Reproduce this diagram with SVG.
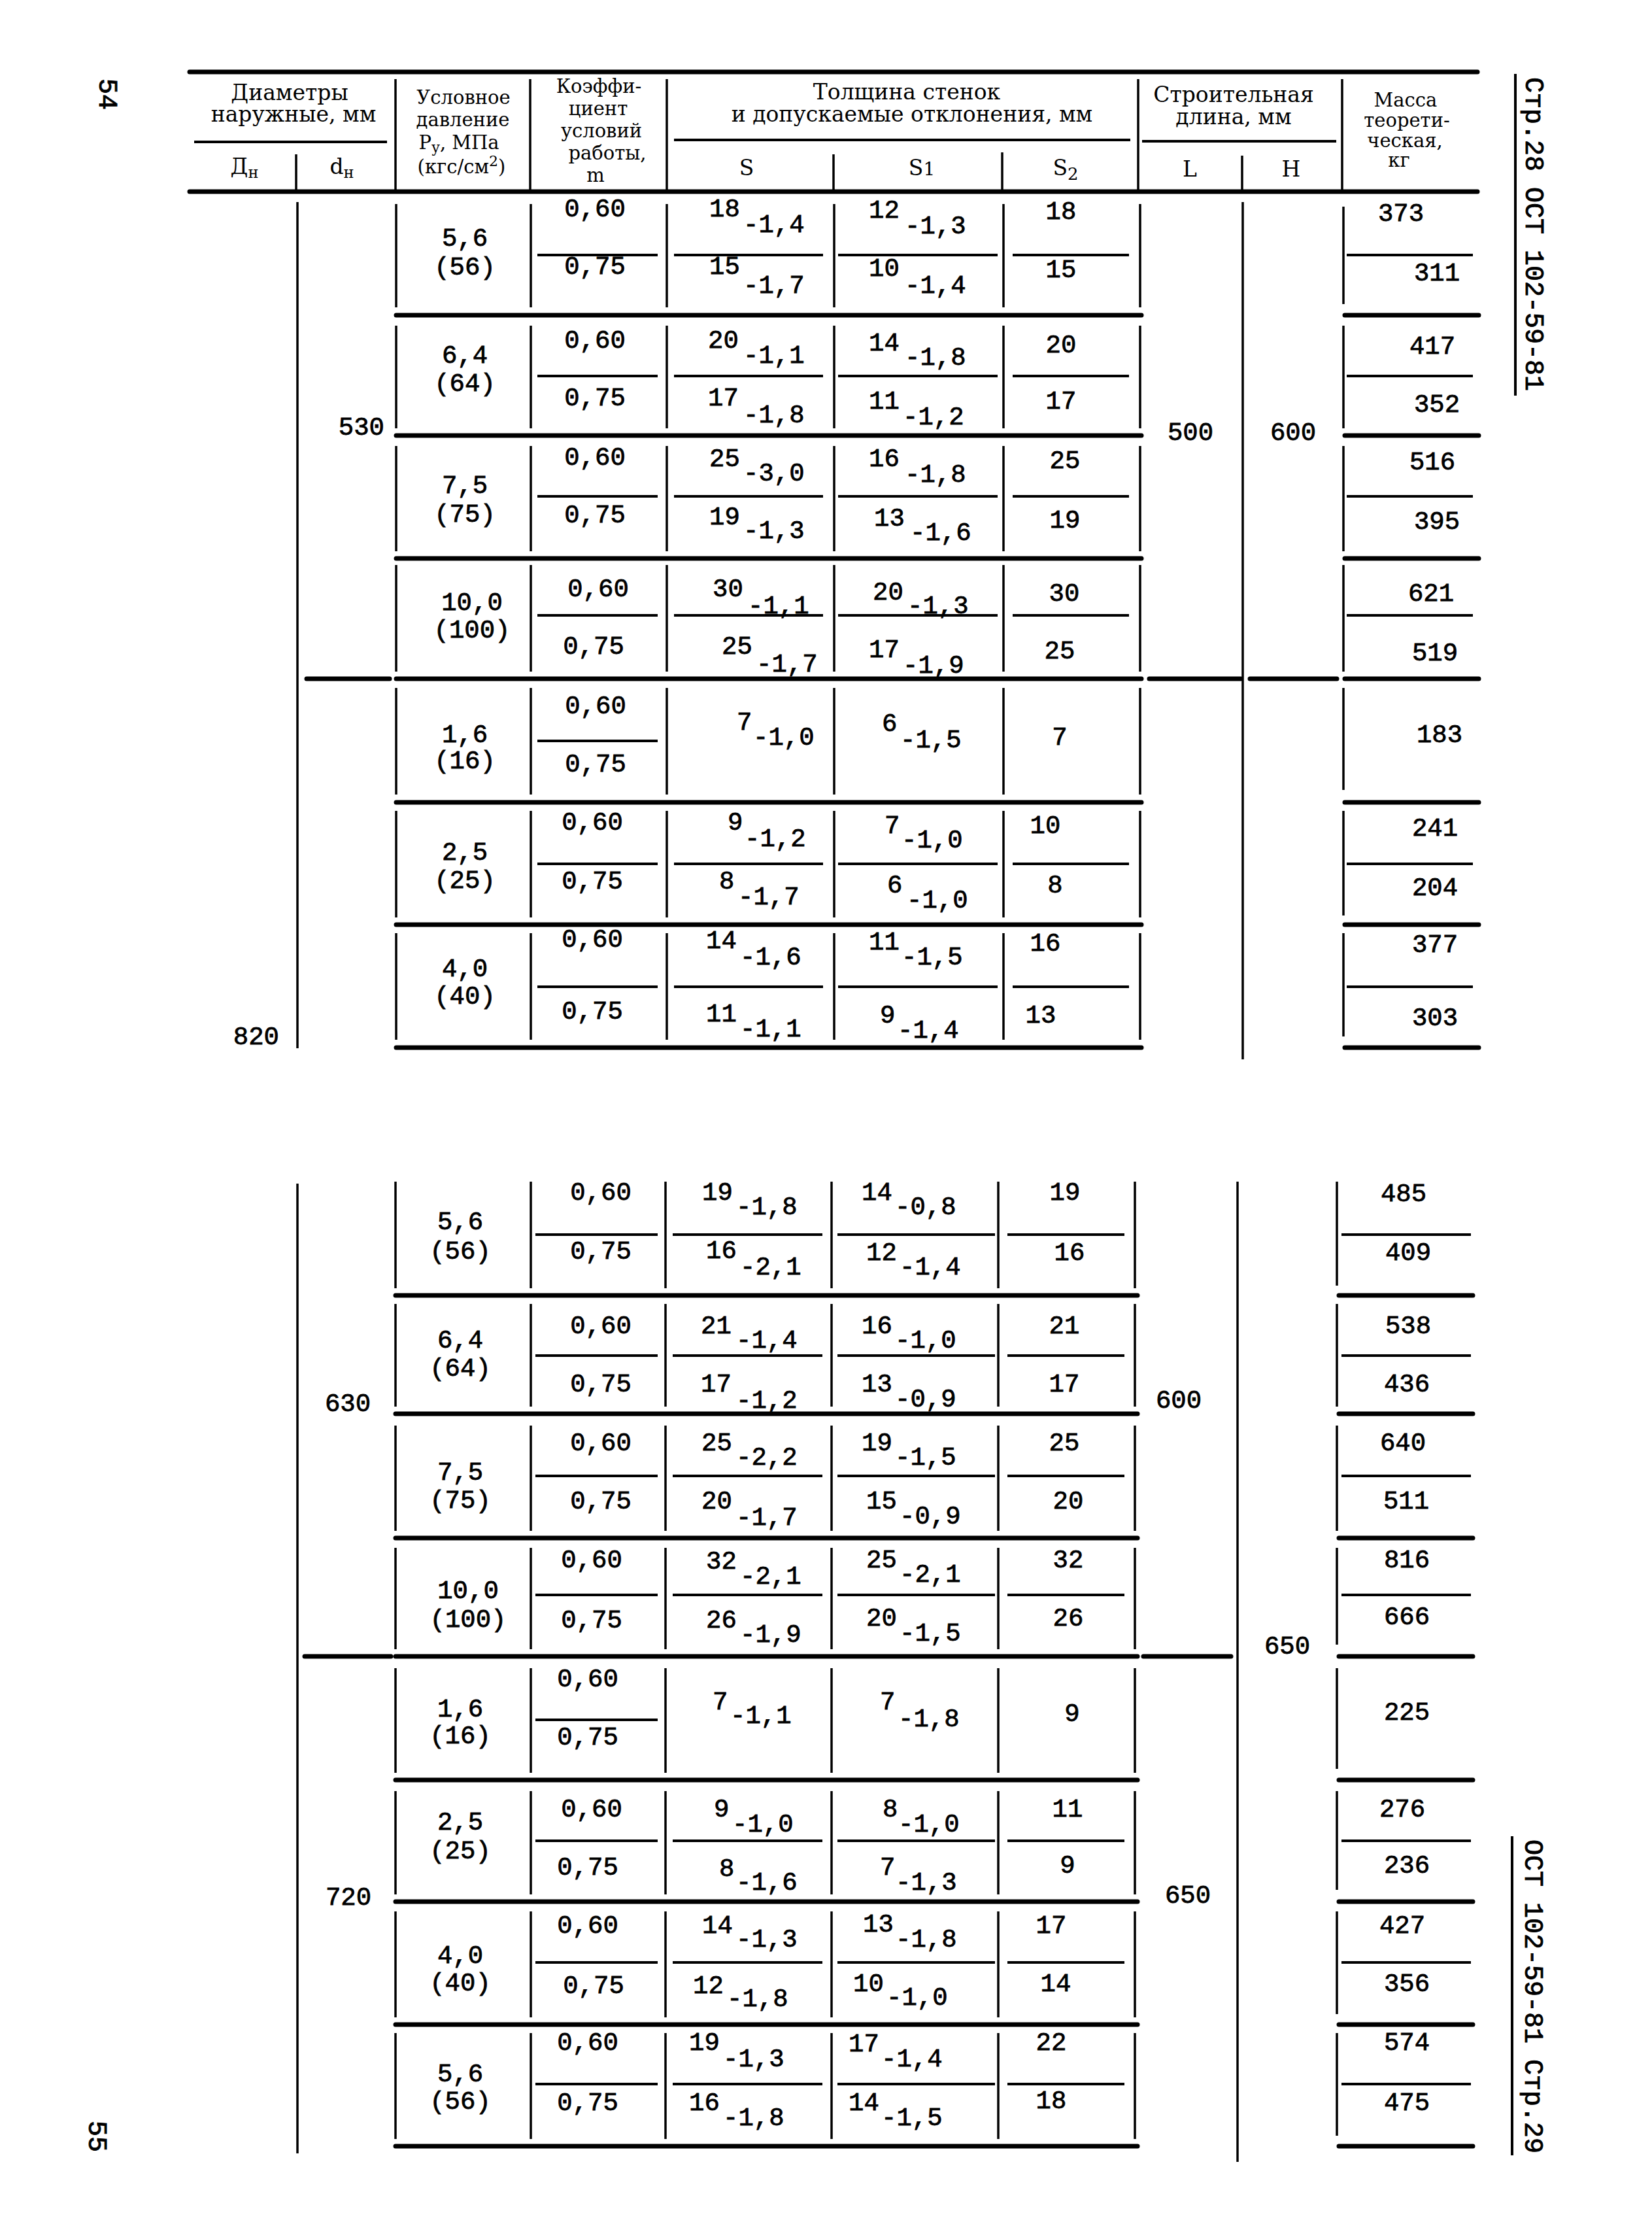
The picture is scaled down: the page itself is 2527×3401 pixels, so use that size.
<svg xmlns="http://www.w3.org/2000/svg" width="2527" height="3401" viewBox="0 0 2527 3401">
<style>
.tk{stroke:#000;stroke-width:7;stroke-linecap:round;fill:none}
.tn{stroke:#000;stroke-width:3.5;fill:none}
.md{stroke:#000;stroke-width:4;fill:none}
.h{font-family:"DejaVu Serif","Liberation Serif",serif;font-size:33px;text-anchor:middle;fill:#000}
.hs{font-size:29px}
.n{font-family:"Liberation Mono","DejaVu Sans Mono",monospace;font-size:39px;fill:#000;stroke:#000;stroke-width:0.8}
.c{text-anchor:middle}
.e{text-anchor:end}
.r{font-family:"Liberation Mono","DejaVu Sans Mono",monospace;font-size:40px;fill:#000;stroke:#000;stroke-width:0.9}
</style>
<rect width="2527" height="3401" fill="#fff"/>

<g id="page-marks">
<text class="r" transform="translate(152,120) rotate(90)">54</text>
<text class="r" transform="translate(136,3243) rotate(90)">55</text>
<text class="r" transform="translate(2334,118) rotate(90)">Стр.28 ОСТ 102-59-81</text>
<path class="md" d="M2318 113 V605"/>
<text class="r" transform="translate(2333,2813) rotate(90)">ОСТ 102-59-81 Стр.29</text>
<path class="md" d="M2313 2808 V3296"/>
</g>

<g id="header">
<path class="tk" d="M290 110 H2260 M290 293 H2260"/>
<path class="tn" d="M453 236 V290 M605 121 V290 M811 121 V290 M1020 121 V290 M1275 236 V290 M1533 233 V290 M1741 121 V290 M1900 238 V290 M2053 121 V290"/>
<path class="md" d="M297 217 H592 M1031 214 H1729 M1747 216 H2044"/>
<text class="h" x="443" y="153">Диаметры</text>
<text class="h" x="449" y="186">наружные, мм</text>
<text class="h" x="374" y="266">Д<tspan dy="6" font-size="24">н</tspan></text>
<text class="h" x="523" y="266">d<tspan dy="6" font-size="24">н</tspan></text>
<text class="h hs" x="709" y="159">Условное</text>
<text class="h hs" x="708" y="193">давление</text>
<text class="h hs" x="702" y="228">Р<tspan dy="5" font-size="22">у</tspan><tspan dy="-5">, МПа</tspan></text>
<text class="h hs" x="706" y="265">(кгс/см<tspan dy="-11" font-size="22">2</tspan><tspan dy="11">)</tspan></text>
<text class="h hs" x="916" y="142">Коэффи-</text>
<text class="h hs" x="915" y="176">циент</text>
<text class="h hs" x="920" y="210">условий</text>
<text class="h hs" x="929" y="244">работы,</text>
<text class="h hs" x="911" y="278">m</text>
<text class="h" x="1387" y="152">Толщина стенок</text>
<text class="h" x="1395" y="186">и допускаемые отклонения, мм</text>
<text class="h" x="1142" y="268">S</text>
<text class="h" x="1410" y="268">S<tspan font-size="28">1</tspan></text>
<text class="h" x="1630" y="268">S<tspan dy="7" font-size="26">2</tspan></text>
<text class="h" x="1887" y="156">Строительная</text>
<text class="h" x="1887" y="190">длина, мм</text>
<text class="h" x="1820" y="270">L</text>
<text class="h" x="1975" y="270">H</text>
<text class="h hs" x="2150" y="163">Масса</text>
<text class="h hs" x="2152" y="194">теорети-</text>
<text class="h hs" x="2149" y="225">ческая,</text>
<text class="h hs" x="2140" y="255">кг</text>
</g>

<g id="connectors">
<path class="tk" d="M606 482 H1746 M2057 482 H2262 M606 666 H1746 M2057 666 H2262 M606 854 H1746 M2057 854 H2262 M469 1038 H596 M606 1038 H1746 M1758 1038 H1898 M1912 1038 H2045 M2057 1038 H2262 M606 1227 H1746 M2057 1227 H2262 M606 1414 H1746 M2057 1414 H2262 M606 1602 H1746 M2057 1602 H2262"/>
<path class="tn" d="M455 309 V1603 M1901 309 V1620
M606 312 V470 M812 312 V470 M1020 312 V470 M1276 312 V470 M1535 312 V470 M1744 312 V470 M2055 316 V465
M606 498 V655 M812 498 V655 M1020 498 V655 M1276 498 V655 M1535 498 V655 M1744 498 V655 M2055 498 V655
M606 682 V843 M812 682 V843 M1020 682 V843 M1276 682 V843 M1535 682 V843 M1744 682 V843 M2055 682 V843
M606 864 V1027 M812 864 V1027 M1020 864 V1027 M1276 864 V1027 M1535 864 V1027 M1744 864 V1027 M2055 864 V1027
M606 1052 V1215 M812 1052 V1215 M1020 1052 V1215 M1276 1052 V1215 M1535 1052 V1215 M1744 1052 V1215 M2055 1052 V1208
M606 1240 V1403 M812 1240 V1403 M1020 1240 V1403 M1276 1240 V1403 M1535 1240 V1403 M1744 1240 V1403 M2055 1240 V1400
M606 1427 V1590 M812 1427 V1590 M1020 1427 V1590 M1276 1427 V1590 M1535 1427 V1590 M1744 1427 V1590 M2055 1427 V1585"/>
<path class="md" d="M822 390 H1006 M1031 390 H1259 M1282 390 H1526 M1549 390 H1727 M2060 390 H2253
M822 575 H1006 M1031 575 H1259 M1282 575 H1526 M1549 575 H1727 M2060 575 H2253
M822 759 H1006 M1031 759 H1259 M1282 759 H1526 M1549 759 H1727 M2060 759 H2253
M822 941 H1006 M1031 941 H1259 M1282 941 H1526 M1549 941 H1727 M2060 941 H2253
M822 1133 H1006
M822 1321 H1006 M1031 1321 H1259 M1282 1321 H1526 M1549 1321 H1727 M2060 1321 H2253
M822 1509 H1006 M1031 1509 H1259 M1282 1509 H1526 M1549 1509 H1727 M2060 1509 H2253"/>
<path class="tk" d="M605 1981 H1740 M2048 1981 H2253 M605 2162 H1740 M2048 2162 H2253 M605 2352 H1740 M2048 2352 H2253 M466 2533 H598 M605 2533 H1740 M1749 2533 H1883 M2048 2533 H2253 M605 2722 H1740 M2048 2722 H2253 M605 2908 H1740 M2048 2908 H2253 M605 3096 H1740 M2048 3096 H2253 M605 3282 H1740 M2048 3282 H2253"/>
<path class="tn" d="M455 1810 V3293 M1893 1807 V3306
M605 1807 V1970 M812 1807 V1970 M1018 1807 V1970 M1272 1807 V1970 M1527 1807 V1970 M1736 1807 V1970 M2045 1807 V1966
M605 1994 V2151 M812 1994 V2151 M1018 1994 V2151 M1272 1994 V2151 M1527 1994 V2151 M1736 1994 V2151 M2045 1994 V2151
M605 2180 V2341 M812 2180 V2341 M1018 2180 V2341 M1272 2180 V2341 M1527 2180 V2341 M1736 2180 V2341 M2045 2180 V2341
M605 2367 V2522 M812 2367 V2522 M1018 2367 V2522 M1272 2367 V2522 M1527 2367 V2522 M1736 2367 V2522 M2045 2367 V2515
M605 2551 V2711 M812 2551 V2711 M1018 2551 V2711 M1272 2551 V2711 M1527 2551 V2711 M1736 2551 V2711 M2045 2551 V2705
M605 2739 V2897 M812 2739 V2897 M1018 2739 V2897 M1272 2739 V2897 M1527 2739 V2897 M1736 2739 V2897 M2045 2739 V2890
M605 2923 V3085 M812 2923 V3085 M1018 2923 V3085 M1272 2923 V3085 M1527 2923 V3085 M1736 2923 V3085 M2045 2923 V3080
M605 3109 V3271 M812 3109 V3271 M1018 3109 V3271 M1272 3109 V3271 M1527 3109 V3271 M1736 3109 V3271 M2045 3109 V3266"/>
<path class="md" d="M819 1888 H1006 M1029 1888 H1258 M1281 1888 H1522 M1541 1888 H1720 M2052 1888 H2250
M819 2073 H1006 M1029 2073 H1258 M1281 2073 H1522 M1541 2073 H1720 M2052 2073 H2250
M819 2257 H1006 M1029 2257 H1258 M1281 2257 H1522 M1541 2257 H1720 M2052 2257 H2250
M819 2439 H1006 M1029 2439 H1258 M1281 2439 H1522 M1541 2439 H1720 M2052 2439 H2250
M819 2630 H1006
M819 2815 H1006 M1029 2815 H1258 M1281 2815 H1522 M1541 2815 H1720 M2052 2815 H2250
M819 3001 H1006 M1029 3001 H1258 M1281 3001 H1522 M1541 3001 H1720 M2052 3001 H2250
M819 3187 H1006 M1029 3187 H1258 M1281 3187 H1522 M1541 3187 H1720 M2052 3187 H2250"/>
</g>

<g id="top-section">
<text class="n e" x="588" y="665">530</text>
<text class="n e" x="427" y="1597">820</text>
<text class="n c" x="1821" y="673">500</text>
<text class="n c" x="1978" y="673">600</text>
<g id="t-b1">
<text class="n c" x="711" y="376">5,6</text><text class="n c" x="711" y="420">(56)</text>
<text class="n c" x="910" y="331">0,60</text><text class="n c" x="910" y="419">0,75</text>
<text class="n" x="1085" y="331">18<tspan x="1137" y="355">-1,4</tspan></text>
<text class="n" x="1085" y="419">15<tspan x="1137" y="448">-1,7</tspan></text>
<text class="n" x="1329" y="333">12<tspan x="1384" y="357">-1,3</tspan></text>
<text class="n" x="1329" y="422">10<tspan x="1384" y="448">-1,4</tspan></text>
<text class="n c" x="1623" y="335">18</text><text class="n c" x="1623" y="424">15</text>
<text class="n c" x="2143" y="338">373</text><text class="n c" x="2198" y="429">311</text>
</g>
<g id="t-b2">
<text class="n c" x="711" y="555">6,4</text><text class="n c" x="711" y="598">(64)</text>
<text class="n c" x="910" y="532">0,60</text><text class="n c" x="910" y="620">0,75</text>
<text class="n" x="1083" y="532">20<tspan x="1137" y="555">-1,1</tspan></text>
<text class="n" x="1083" y="620">17<tspan x="1137" y="646">-1,8</tspan></text>
<text class="n" x="1329" y="536">14<tspan x="1384" y="558">-1,8</tspan></text>
<text class="n" x="1329" y="625">11<tspan x="1381" y="649">-1,2</tspan></text>
<text class="n c" x="1623" y="539">20</text><text class="n c" x="1623" y="625">17</text>
<text class="n c" x="2191" y="541">417</text><text class="n c" x="2198" y="630">352</text>
</g>
<g id="t-b3">
<text class="n c" x="711" y="754">7,5</text><text class="n c" x="711" y="798">(75)</text>
<text class="n c" x="910" y="711">0,60</text><text class="n c" x="910" y="799">0,75</text>
<text class="n" x="1085" y="713">25<tspan x="1137" y="735">-3,0</tspan></text>
<text class="n" x="1085" y="802">19<tspan x="1137" y="823">-1,3</tspan></text>
<text class="n" x="1329" y="713">16<tspan x="1384" y="737">-1,8</tspan></text>
<text class="n" x="1337" y="804">13<tspan x="1392" y="826">-1,6</tspan></text>
<text class="n c" x="1629" y="716">25</text><text class="n c" x="1629" y="807">19</text>
<text class="n c" x="2191" y="718">516</text><text class="n c" x="2198" y="809">395</text>
</g>
<g id="t-b4">
<text class="n c" x="722" y="933">10,0</text><text class="n c" x="722" y="975">(100)</text>
<text class="n c" x="915" y="912">0,60</text><text class="n c" x="908" y="1000">0,75</text>
<text class="n" x="1090" y="912">30<tspan x="1144" y="938">-1,1</tspan></text>
<text class="n" x="1104" y="1000">25<tspan x="1157" y="1027">-1,7</tspan></text>
<text class="n" x="1335" y="917">20<tspan x="1388" y="938">-1,3</tspan></text>
<text class="n" x="1329" y="1005">17<tspan x="1381" y="1029">-1,9</tspan></text>
<text class="n c" x="1628" y="919">30</text><text class="n c" x="1621" y="1007">25</text>
<text class="n c" x="2189" y="919">621</text><text class="n c" x="2195" y="1010">519</text>
</g>
<g id="t-b5">
<text class="n c" x="711" y="1135">1,6</text><text class="n c" x="711" y="1175">(16)</text>
<text class="n c" x="911" y="1091">0,60</text><text class="n c" x="911" y="1180">0,75</text>
<text class="n" x="1127" y="1116">7<tspan x="1152" y="1139">-1,0</tspan></text>
<text class="n" x="1349" y="1118">6<tspan x="1377" y="1143">-1,5</tspan></text>
<text class="n c" x="1621" y="1139">7</text>
<text class="n c" x="2202" y="1135">183</text>
</g>
<g id="t-b6">
<text class="n c" x="711" y="1315">2,5</text><text class="n c" x="711" y="1358">(25)</text>
<text class="n c" x="906" y="1269">0,60</text><text class="n c" x="906" y="1359">0,75</text>
<text class="n" x="1113" y="1269">9<tspan x="1139" y="1294">-1,2</tspan></text>
<text class="n" x="1100" y="1359">8<tspan x="1129" y="1383">-1,7</tspan></text>
<text class="n" x="1353" y="1274">7<tspan x="1379" y="1296">-1,0</tspan></text>
<text class="n" x="1357" y="1365">6<tspan x="1387" y="1388">-1,0</tspan></text>
<text class="n c" x="1599" y="1274">10</text><text class="n c" x="1614" y="1365">8</text>
<text class="n c" x="2195" y="1278">241</text><text class="n c" x="2195" y="1369">204</text>
</g>
<g id="t-b7">
<text class="n c" x="711" y="1493">4,0</text><text class="n c" x="711" y="1535">(40)</text>
<text class="n c" x="906" y="1448">0,60</text><text class="n c" x="906" y="1558">0,75</text>
<text class="n" x="1080" y="1450">14<tspan x="1132" y="1475">-1,6</tspan></text>
<text class="n" x="1080" y="1562">11<tspan x="1132" y="1585">-1,1</tspan></text>
<text class="n" x="1329" y="1452">11<tspan x="1379" y="1475">-1,5</tspan></text>
<text class="n" x="1346" y="1564">9<tspan x="1373" y="1587">-1,4</tspan></text>
<text class="n c" x="1599" y="1454">16</text><text class="n c" x="1592" y="1564">13</text>
<text class="n c" x="2195" y="1456">377</text><text class="n c" x="2195" y="1568">303</text>
</g>
</g>

<g id="bottom-section">
<text class="n c" x="532" y="2158">630</text>
<text class="n c" x="533" y="2913">720</text>
<text class="n c" x="1803" y="2153">600</text>
<text class="n c" x="1969" y="2529">650</text>
<text class="n c" x="1817" y="2910">650</text>
<g id="b-b1">
<text class="n c" x="704" y="1880">5,6</text><text class="n c" x="704" y="1925">(56)</text>
<text class="n c" x="919" y="1835">0,60</text><text class="n c" x="919" y="1925">0,75</text>
<text class="n" x="1074" y="1835">19<tspan x="1126" y="1857">-1,8</tspan></text>
<text class="n" x="1080" y="1924">16<tspan x="1132" y="1949">-2,1</tspan></text>
<text class="n" x="1318" y="1835">14<tspan x="1369" y="1857">-0,8</tspan></text>
<text class="n" x="1325" y="1927">12<tspan x="1376" y="1949">-1,4</tspan></text>
<text class="n c" x="1629" y="1835">19</text><text class="n c" x="1636" y="1927">16</text>
<text class="n c" x="2147" y="1837">485</text><text class="n c" x="2154" y="1927">409</text>
</g>
<g id="b-b2">
<text class="n c" x="704" y="2061">6,4</text><text class="n c" x="704" y="2104">(64)</text>
<text class="n c" x="919" y="2039">0,60</text><text class="n c" x="919" y="2128">0,75</text>
<text class="n" x="1072" y="2039">21<tspan x="1126" y="2061">-1,4</tspan></text>
<text class="n" x="1072" y="2128">17<tspan x="1126" y="2153">-1,2</tspan></text>
<text class="n" x="1318" y="2039">16<tspan x="1369" y="2061">-1,0</tspan></text>
<text class="n" x="1318" y="2128">13<tspan x="1369" y="2151">-0,9</tspan></text>
<text class="n c" x="1628" y="2039">21</text><text class="n c" x="1628" y="2128">17</text>
<text class="n c" x="2154" y="2039">538</text><text class="n c" x="2152" y="2128">436</text>
</g>
<g id="b-b3">
<text class="n c" x="704" y="2263">7,5</text><text class="n c" x="704" y="2306">(75)</text>
<text class="n c" x="919" y="2218">0,60</text><text class="n c" x="919" y="2307">0,75</text>
<text class="n" x="1073" y="2218">25<tspan x="1126" y="2240">-2,2</tspan></text>
<text class="n" x="1073" y="2307">20<tspan x="1126" y="2332">-1,7</tspan></text>
<text class="n" x="1318" y="2218">19<tspan x="1369" y="2240">-1,5</tspan></text>
<text class="n" x="1325" y="2307">15<tspan x="1376" y="2330">-0,9</tspan></text>
<text class="n c" x="1628" y="2218">25</text><text class="n c" x="1634" y="2307">20</text>
<text class="n c" x="2146" y="2218">640</text><text class="n c" x="2151" y="2307">511</text>
</g>
<g id="b-b4">
<text class="n c" x="716" y="2444">10,0</text><text class="n c" x="716" y="2488">(100)</text>
<text class="n c" x="905" y="2397">0,60</text><text class="n c" x="905" y="2489">0,75</text>
<text class="n" x="1080" y="2399">32<tspan x="1132" y="2422">-2,1</tspan></text>
<text class="n" x="1080" y="2489">26<tspan x="1132" y="2511">-1,9</tspan></text>
<text class="n" x="1325" y="2397">25<tspan x="1376" y="2419">-2,1</tspan></text>
<text class="n" x="1325" y="2486">20<tspan x="1376" y="2509">-1,5</tspan></text>
<text class="n c" x="1634" y="2397">32</text><text class="n c" x="1634" y="2486">26</text>
<text class="n c" x="2152" y="2397">816</text><text class="n c" x="2152" y="2484">666</text>
</g>
<g id="b-b5">
<text class="n c" x="704" y="2625">1,6</text><text class="n c" x="704" y="2666">(16)</text>
<text class="n c" x="899" y="2579">0,60</text><text class="n c" x="899" y="2668">0,75</text>
<text class="n" x="1090" y="2614">7<tspan x="1117" y="2635">-1,1</tspan></text>
<text class="n" x="1346" y="2614">7<tspan x="1374" y="2640">-1,8</tspan></text>
<text class="n c" x="1640" y="2632">9</text>
<text class="n c" x="2152" y="2630">225</text>
</g>
<g id="b-b6">
<text class="n c" x="704" y="2798">2,5</text><text class="n c" x="704" y="2842">(25)</text>
<text class="n c" x="905" y="2778">0,60</text><text class="n c" x="899" y="2867">0,75</text>
<text class="n" x="1092" y="2778">9<tspan x="1120" y="2801">-1,0</tspan></text>
<text class="n" x="1100" y="2869">8<tspan x="1126" y="2890">-1,6</tspan></text>
<text class="n" x="1350" y="2778">8<tspan x="1374" y="2801">-1,0</tspan></text>
<text class="n" x="1346" y="2867">7<tspan x="1370" y="2890">-1,3</tspan></text>
<text class="n c" x="1633" y="2778">11</text><text class="n c" x="1633" y="2864">9</text>
<text class="n c" x="2145" y="2778">276</text><text class="n c" x="2152" y="2864">236</text>
</g>
<g id="b-b7">
<text class="n c" x="704" y="3002">4,0</text><text class="n c" x="704" y="3044">(40)</text>
<text class="n c" x="899" y="2956">0,60</text><text class="n c" x="908" y="3048">0,75</text>
<text class="n" x="1074" y="2956">14<tspan x="1126" y="2977">-1,3</tspan></text>
<text class="n" x="1060" y="3048">12<tspan x="1112" y="3068">-1,8</tspan></text>
<text class="n" x="1320" y="2954">13<tspan x="1370" y="2977">-1,8</tspan></text>
<text class="n" x="1305" y="3045">10<tspan x="1356" y="3066">-1,0</tspan></text>
<text class="n c" x="1608" y="2956">17</text><text class="n c" x="1615" y="3045">14</text>
<text class="n c" x="2145" y="2956">427</text><text class="n c" x="2152" y="3045">356</text>
</g>
<g id="b-b8">
<text class="n c" x="704" y="3183">5,6</text><text class="n c" x="704" y="3225">(56)</text>
<text class="n c" x="899" y="3135">0,60</text><text class="n c" x="899" y="3227">0,75</text>
<text class="n" x="1054" y="3135">19<tspan x="1106" y="3160">-1,3</tspan></text>
<text class="n" x="1054" y="3227">16<tspan x="1106" y="3250">-1,8</tspan></text>
<text class="n" x="1298" y="3137">17<tspan x="1348" y="3160">-1,4</tspan></text>
<text class="n" x="1298" y="3227">14<tspan x="1348" y="3250">-1,5</tspan></text>
<text class="n c" x="1608" y="3135">22</text><text class="n c" x="1608" y="3224">18</text>
<text class="n c" x="2152" y="3135">574</text><text class="n c" x="2152" y="3227">475</text>
</g>
</g>
</svg>
